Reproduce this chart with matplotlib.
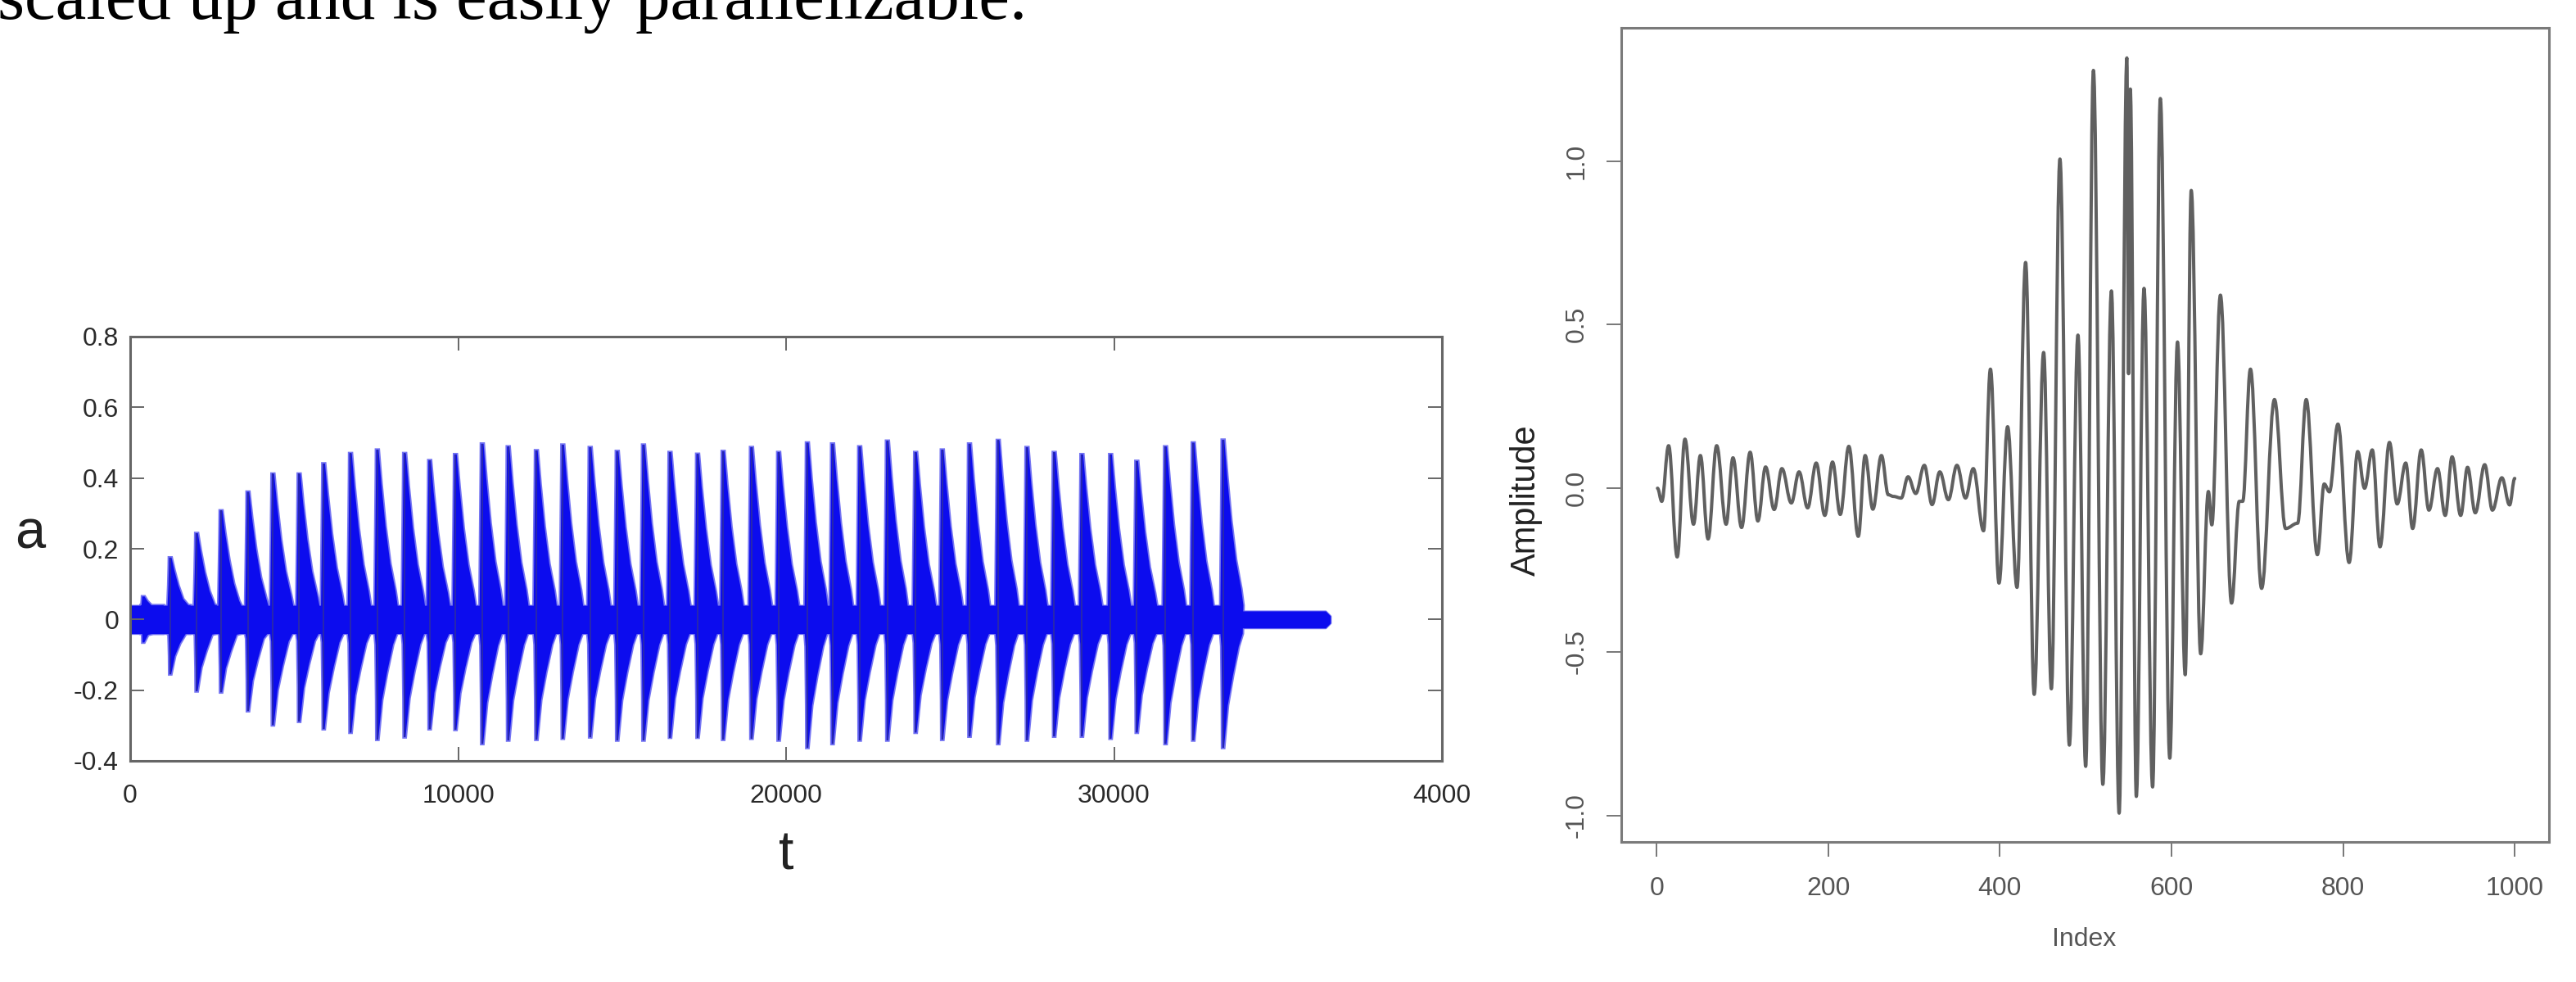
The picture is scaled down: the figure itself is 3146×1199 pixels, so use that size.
import numpy as np
import matplotlib
matplotlib.use("Agg")
import matplotlib.pyplot as plt
from matplotlib.path import Path
from matplotlib.patches import PathPatch

# ---- left plot: pulse train a(t) ----
# spike position (t) and the highest / lowest value of each burst
pulse_t = [400, 1220, 2025, 2770, 3590, 4350, 5150, 5900, 6717, 7535, 8367,
           9130, 9917, 10735, 11525, 12385, 13190, 14025, 14850, 15650, 16460,
           17300, 18080, 18943, 19772, 20648, 21415, 22243, 23088, 23950, 24762,
           25592, 26468, 27345, 28175, 29020, 29895, 30693, 31570, 32415, 33325]
pulse_hi = [0.065, 0.175, 0.244, 0.308, 0.361, 0.412, 0.412, 0.441, 0.47, 0.48,
            0.47, 0.45, 0.467, 0.497, 0.489, 0.478, 0.494, 0.487, 0.476, 0.494,
            0.473, 0.468, 0.476, 0.487, 0.473, 0.5, 0.497, 0.489, 0.505, 0.473,
            0.48, 0.497, 0.507, 0.487, 0.473, 0.467, 0.467, 0.448, 0.489, 0.5, 0.508]
pulse_lo = [-0.065, -0.155, -0.203, -0.206, -0.259, -0.299, -0.289, -0.31, -0.32,
            -0.34, -0.333, -0.31, -0.312, -0.352, -0.342, -0.34, -0.337, -0.333,
            -0.342, -0.342, -0.334, -0.334, -0.34, -0.337, -0.342, -0.363, -0.352,
            -0.342, -0.342, -0.32, -0.34, -0.331, -0.352, -0.342, -0.331, -0.331,
            -0.337, -0.32, -0.352, -0.342, -0.363]

# shape of one burst: offset from the spike and fraction of the burst peak
up_dt = [-80, -55, -40, -35, 40, 125, 250, 395, 555, 620]
up_fr = [0.0, 0.55, 0.85, 1.0, 1.0, 0.8, 0.55, 0.33, 0.17, 0.0]
dn_dt = [-80, -50, -40, -30, -25, 30, 145, 300, 480, 600]
dn_fr = [0.0, 0.21, 0.44, 0.67, 1.0, 1.0, 0.67, 0.44, 0.21, 0.0]

# noise band around zero
band_t = [0, 33450, 33650, 36450, 36600]
band_hi = [0.04, 0.04, 0.024, 0.024, 0.01]
band_lo = [-0.04, -0.04, -0.024, -0.024, -0.01]

# ---- right plot: Amplitude vs Index (turning points of the trace) ----
wave_idx = [1, 6, 14, 24, 33, 43, 51, 60, 70, 81, 89, 99, 109, 118, 127, 137,
            146, 157, 166, 176, 186, 196, 205, 214, 224, 235, 243, 252, 262, 270,
            276, 285, 293, 302, 312, 321, 330, 340, 350, 360, 369, 381, 389, 399,
            409, 420, 430, 440, 451, 460, 470, 481, 491, 500, 509, 520, 530, 539,
            548, 550, 552, 559, 568, 578, 587, 598, 607, 616, 623, 634, 643, 647,
            657, 670, 679, 683, 692, 705, 720, 733, 747, 757, 770, 778, 784, 794,
            807, 817, 825, 834, 843, 854, 863, 873, 881, 891, 900, 910, 919, 927,
            937, 945, 954, 965, 974, 985, 994, 1000]
wave_amp = [0.0, -0.04, 0.13, -0.21, 0.15, -0.11, 0.10, -0.155, 0.13, -0.11,
            0.093, -0.12, 0.11, -0.10, 0.065, -0.065, 0.06, -0.045, 0.05, -0.06,
            0.077, -0.083, 0.08, -0.08, 0.128, -0.147, 0.10, -0.064, 0.10, -0.02,
            -0.025, -0.03, 0.035, -0.016, 0.07, -0.05, 0.05, -0.035, 0.07, -0.03,
            0.06, -0.13, 0.364, -0.29, 0.188, -0.303, 0.69, -0.63, 0.415, -0.613,
            1.006, -0.785, 0.468, -0.85, 1.277, -0.905, 0.603, -0.993, 1.315, 0.35,
            1.22, -0.942, 0.611, -0.913, 1.191, -0.825, 0.447, -0.57, 0.91, -0.506,
            -0.01, -0.112, 0.59, -0.351, -0.04, -0.04, 0.364, -0.306, 0.271, -0.123,
            -0.107, 0.271, -0.203, 0.013, -0.011, 0.196, -0.227, 0.112, 0.0, 0.117,
            -0.179, 0.14, -0.048, 0.077, -0.123, 0.117, -0.067, 0.06, -0.083, 0.096,
            -0.083, 0.064, -0.075, 0.072, -0.067, 0.032, -0.051, 0.03]

W, H = 3146, 1199
fig = plt.figure(figsize=(W / 100, H / 100), dpi=100)
fig.patch.set_facecolor("white")

# text line cut off at the top of the page
fig.text(-3 / W, 1 - 23 / H, "scaled up and is easily parallelizable.",
         family="Liberation Serif", fontsize=61, color="black",
         ha="left", va="baseline")

# ---------------- left axes ----------------
ax1 = fig.add_axes([159 / W, 1 - 929 / H, (1761 - 159) / W, (929 - 411) / H])
blue = "#0c0cee"
halo = "#7474f2"
ax1.fill_between(band_t, band_lo, band_hi, color=blue, ec=halo, lw=1.5)
for t0, p, n in zip(pulse_t, pulse_hi, pulse_lo):
    up = np.maximum(np.array(up_fr) * p, 0.04)
    dn = np.minimum(np.array(dn_fr) * n, -0.04)
    xs = np.concatenate([t0 + np.array(up_dt), (t0 + np.array(dn_dt))[::-1]])
    ys = np.concatenate([up, dn[::-1]])
    ax1.fill(xs, ys, fc=blue, lw=2.6, ec=halo, joinstyle="miter")
# second pass so halos do not cover neighbouring bodies
for t0, p, n in zip(pulse_t, pulse_hi, pulse_lo):
    up = np.maximum(np.array(up_fr) * p, 0.04)
    dn = np.minimum(np.array(dn_fr) * n, -0.04)
    xs = np.concatenate([t0 + np.array(up_dt), (t0 + np.array(dn_dt))[::-1]])
    ys = np.concatenate([up, dn[::-1]])
    ax1.fill(xs, ys, fc=blue, lw=0)
ax1.fill_between(band_t, band_lo, band_hi, color=blue, lw=0)
ax1.vlines(pulse_t[1:], pulse_lo[1:], pulse_hi[1:], color="#2a2aa8", lw=1.3)

ax1.set_xlim(0, 40000)
ax1.set_ylim(-0.4, 0.8)
ax1.set_xticks([0, 10000, 20000, 30000, 40000])
ax1.set_xticklabels(["0", "10000", "20000", "30000", "4000"])
ax1.set_yticks([-0.4, -0.2, 0, 0.2, 0.4, 0.6, 0.8])
ax1.set_yticklabels(["-0.4", "-0.2", "0", "0.2", "0.4", "0.6", "0.8"])
ax1.tick_params(direction="in", length=12, width=1.4, color="#666666",
                top=True, right=True, labelsize=23, labelcolor="#2a2a2a")
ax1.tick_params(axis="x", pad=20)
ax1.tick_params(axis="y", pad=10)
for lab in ax1.get_xticklabels() + ax1.get_yticklabels():
    lab.set_family("Liberation Sans")
for s in ax1.spines.values():
    s.set_color("#666666")
    s.set_linewidth(2.2)
fig.text(37 / W, 1 - 652 / H, "a", family="Liberation Sans", fontsize=48,
         color="#222222", ha="center", va="center")
fig.text(960 / W, 1 - 1044 / H, "t", family="Liberation Sans", fontsize=48,
         color="#222222", ha="center", va="center")

# ---------------- right axes ----------------
ax2 = fig.add_axes([1980 / W, 1 - 1028 / H, (3113 - 1980) / W, (1028 - 34) / H])
# smooth trace: cubic segments between turning points, flat at each turn
verts = [(wave_idx[0], wave_amp[0])]
codes = [Path.MOVETO]
for i in range(1, len(wave_idx)):
    x0, y0 = wave_idx[i - 1], wave_amp[i - 1]
    x1, y1 = wave_idx[i], wave_amp[i]
    d = (x1 - x0) * 0.38
    verts += [(x0 + d, y0), (x1 - d, y1), (x1, y1)]
    codes += [Path.CURVE4] * 3
ax2.add_patch(PathPatch(Path(verts, codes), fc="none", ec="#606060", lw=2.9,
                        joinstyle="round", capstyle="round"))
ax2.set_xlim(-41.2, 1039.9)
ax2.set_ylim(-1.081, 1.407)
ax2.set_xticks([0, 200, 400, 600, 800, 1000])
ax2.set_yticks([-1.0, -0.5, 0.0, 0.5, 1.0])
ax2.set_yticklabels(["-1.0", "-0.5", "0.0", "0.5", "1.0"])
ax2.tick_params(direction="out", length=13, width=1.4, color="#777777",
                labelsize=23, labelcolor="#555555")
ax2.tick_params(axis="x", pad=17)
ax2.tick_params(axis="y", pad=15, labelrotation=90)
for lab in ax2.get_yticklabels():
    lab.set_va("center")
for lab in ax2.get_xticklabels() + ax2.get_yticklabels():
    lab.set_family("Liberation Sans")
for s in ax2.spines.values():
    s.set_color("#7a7a7a")
    s.set_linewidth(2.2)
fig.text(2545 / W, 1 - 1147 / H, "Index", family="Liberation Sans",
         fontsize=23, color="#555555", ha="center", va="center")
fig.text(1864 / W, 1 - 611 / H, "Amplitude", family="Liberation Sans",
         fontsize=30, color="#222222", ha="center", va="center", rotation=90)

fig.savefig("out.png", dpi=100, facecolor="white")
